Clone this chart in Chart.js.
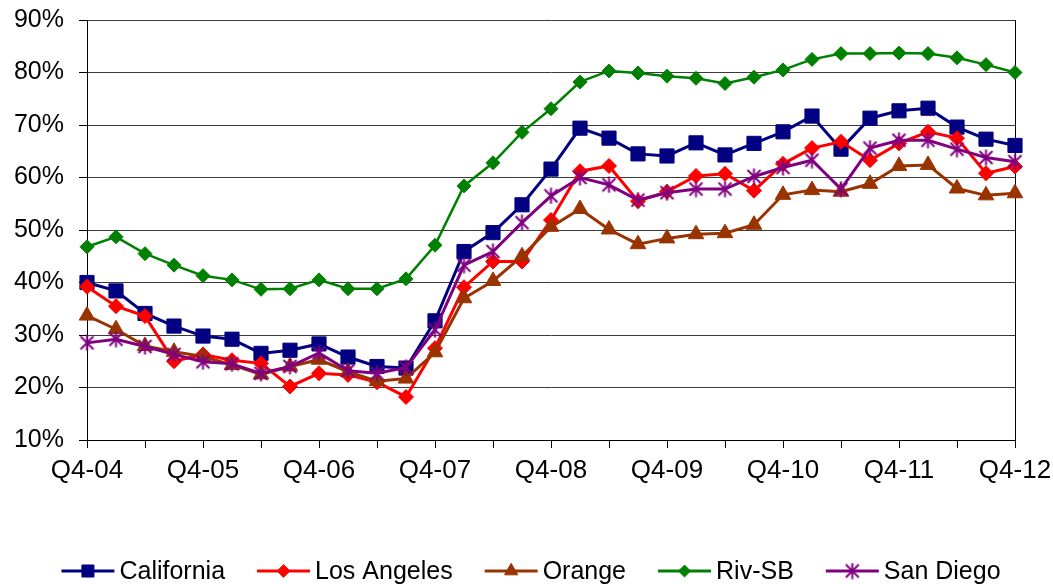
<!DOCTYPE html>
<html>
<head>
<meta charset="utf-8">
<title>Share of home sales by region</title>
<script src="https://cdn.jsdelivr.net/npm/chart.js@4/dist/chart.umd.min.js"></script>
<style>
  html, body { margin: 0; padding: 0; background: #fff; }
  #wrap { width: 1053px; height: 584px; }
</style>
</head>
<body>
<div id="wrap"><canvas id="myChart" width="1053" height="584"></canvas></div>
<script>
var quarters = ['Q4-04', 'Q1-05', 'Q2-05', 'Q3-05', 'Q4-05', 'Q1-06', 'Q2-06', 'Q3-06',
  'Q4-06', 'Q1-07', 'Q2-07', 'Q3-07', 'Q4-07', 'Q1-08', 'Q2-08', 'Q3-08',
  'Q4-08', 'Q1-09', 'Q2-09', 'Q3-09', 'Q4-09', 'Q1-10', 'Q2-10', 'Q3-10',
  'Q4-10', 'Q1-11', 'Q2-11', 'Q3-11', 'Q4-11', 'Q1-12', 'Q2-12', 'Q3-12', 'Q4-12'];

var california = [40.0, 38.4, 34.1, 31.7, 29.8, 29.2, 26.5, 27.1, 28.3, 25.8, 24.0, 23.7,
  32.7, 45.9, 49.5, 54.8, 61.6, 69.4, 67.5, 64.5, 64.1, 66.6, 64.3, 66.5,
  68.7, 71.7, 65.4, 71.3, 72.7, 73.2, 69.6, 67.3, 66.1];
var losAngeles = [39.2, 35.5, 33.6, 25.0, 26.3, 25.2, 24.6, 20.2, 22.7, 22.4, 21.0, 18.2,
  27.5, 39.1, 44.0, 44.0, 51.9, 61.2, 62.2, 55.5, 57.3, 60.3, 60.7, 57.5,
  62.6, 65.6, 66.8, 63.3, 66.5, 68.7, 67.5, 60.8, 62.1];
var orange = [33.7, 31.1, 27.9, 26.8, 25.9, 24.3, 22.5, 24.0, 25.3, 23.0, 21.2, 21.7,
  26.7, 37.0, 40.3, 45.0, 50.6, 54.0, 50.1, 47.3, 48.4, 49.2, 49.4, 51.0,
  56.7, 57.6, 57.3, 58.8, 62.2, 62.4, 57.9, 56.6, 57.0];
var rivSB = [46.8, 48.7, 45.5, 43.3, 41.3, 40.5, 38.7, 38.8, 40.5, 38.8, 38.8, 40.7,
  47.1, 58.4, 62.8, 68.6, 73.1, 78.2, 80.3, 79.9, 79.3, 78.9, 77.9, 79.1,
  80.5, 82.5, 83.6, 83.6, 83.7, 83.6, 82.8, 81.5, 80.0];
var sanDiego = [28.5, 29.2, 27.8, 26.3, 24.9, 24.5, 22.7, 24.0, 26.6, 23.2, 22.7, 23.8,
  31.0, 43.3, 45.9, 51.4, 56.5, 60.0, 58.6, 55.7, 57.1, 57.8, 57.8, 60.2,
  61.9, 63.3, 57.8, 65.6, 67.1, 67.1, 65.4, 63.8, 63.0];

var yTicks = [10, 20, 30, 40, 50, 60, 70, 80, 90];

var FONT = '"Liberation Sans", Arial, Helvetica, sans-serif';

// asterisk marker (x plus a vertical bar)
function makeStar(color) {
  var c = document.createElement('canvas');
  c.width = 17; c.height = 17;
  var g = c.getContext('2d');
  g.strokeStyle = color;
  g.lineWidth = 2;
  g.beginPath();
  g.moveTo(8.5, 0.5); g.lineTo(8.5, 16.5);
  g.moveTo(2, 2); g.lineTo(15, 15);
  g.moveTo(15, 2); g.lineTo(2, 15);
  g.stroke();
  return c;
}

function series(label, data, color, style, radius, width, order) {
  return {
    label: label,
    data: data,
    borderColor: color,
    backgroundColor: color,
    pointBackgroundColor: color,
    pointBorderColor: color,
    pointBorderWidth: 1,
    pointStyle: style,
    pointRadius: radius,
    borderWidth: width,
    tension: 0,
    clip: false,
    order: order
  };
}

// line + marker legend under the plot
var lineLegend = {
  id: 'lineLegend',
  afterDraw: function (chart) {
    var ctx = chart.ctx;
    var y = 571;
    ctx.save();
    ctx.font = '25px ' + FONT;
    var items = chart.data.datasets.map(function (ds) {
      return { ds: ds, w: 53 + 5 + ctx.measureText(ds.label).width };
    });
    var gap = 32;
    var total = items.reduce(function (s, it) { return s + it.w; }, 0) + gap * (items.length - 1);
    var x = 531 - total / 2;
    items.forEach(function (it) {
      var ds = it.ds;
      ctx.strokeStyle = ds.borderColor;
      ctx.lineWidth = 3;
      ctx.beginPath();
      ctx.moveTo(x, y);
      ctx.lineTo(x + 53, y);
      ctx.stroke();
      ctx.fillStyle = ds.pointBackgroundColor;
      ctx.lineWidth = 1;
      if (Chart.helpers && Chart.helpers.drawPoint) {
        Chart.helpers.drawPoint(ctx, { pointStyle: ds.pointStyle, radius: ds.pointRadius * 0.85, borderWidth: 1, rotation: 0 }, x + 26.5, y);
      }
      ctx.fillStyle = '#000';
      ctx.textBaseline = 'middle';
      ctx.textAlign = 'left';
      ctx.fillText(ds.label, x + 58, y + 1);
      x += it.w + gap;
    });
    ctx.restore();
  }
};

var ctx = document.getElementById('myChart').getContext('2d');
var myChart = new Chart(ctx, {
  type: 'line',
  data: {
    labels: quarters,
    datasets: [
      series('California', california, '#000080', 'rect', 10, 3, 5),
      series('Los Angeles', losAngeles, '#FF0000', 'rectRot', 7.5, 3, 4),
      series('Orange', orange, '#993300', 'triangle', 9, 3, 3),
      series('Riv-SB', rivSB, '#008000', 'rectRot', 7, 2.5, 2),
      series('San Diego', sanDiego, '#800080', makeStar('#800080'), 8, 3, 1)
    ]
  },
  options: {
    responsive: false,
    animation: false,
    layout: { padding: { top: 20, right: 38, left: 0, bottom: 0 } },
    plugins: {
      legend: { display: false },
      tooltip: { enabled: false }
    },
    scales: {
      x: {
        type: 'category',
        offset: false,
        afterFit: function (scale) {
          scale.height = 144;
          scale.paddingLeft = 0;
          scale.paddingRight = 0;
        },
        grid: {
          drawOnChartArea: true,
          color: function (c) { return c.index === quarters.length - 1 ? '#000' : 'rgba(0,0,0,0)'; },
          tickColor: function (c) { return c.index % 2 === 0 ? '#000' : 'rgba(0,0,0,0)'; },
          tickLength: 8,
          lineWidth: 1
        },
        border: { display: true, color: '#000', width: 1 },
        ticks: {
          autoSkip: false,
          maxRotation: 0,
          minRotation: 0,
          padding: 7,
          color: '#000',
          font: { family: FONT, size: 26 },
          callback: function (v, i) { return i % 4 === 0 ? quarters[i] : ''; }
        }
      },
      y: {
        min: yTicks[0],
        max: yTicks[yTicks.length - 1],
        afterFit: function (scale) {
          scale.width = 87;
          scale.paddingTop = 0;
          scale.paddingBottom = 0;
        },
        afterBuildTicks: function (scale) {
          scale.ticks = yTicks.map(function (v) { return { value: v }; });
        },
        grid: { color: '#3a3a3a', tickColor: '#000', tickLength: 8, lineWidth: 1 },
        border: { display: true, color: '#000', width: 1 },
        ticks: {
          padding: 15,
          color: '#000',
          font: { family: FONT, size: 25 },
          callback: function (v) { return v + '%'; }
        }
      }
    }
  },
  plugins: [lineLegend]
});
</script>
</body>
</html>
